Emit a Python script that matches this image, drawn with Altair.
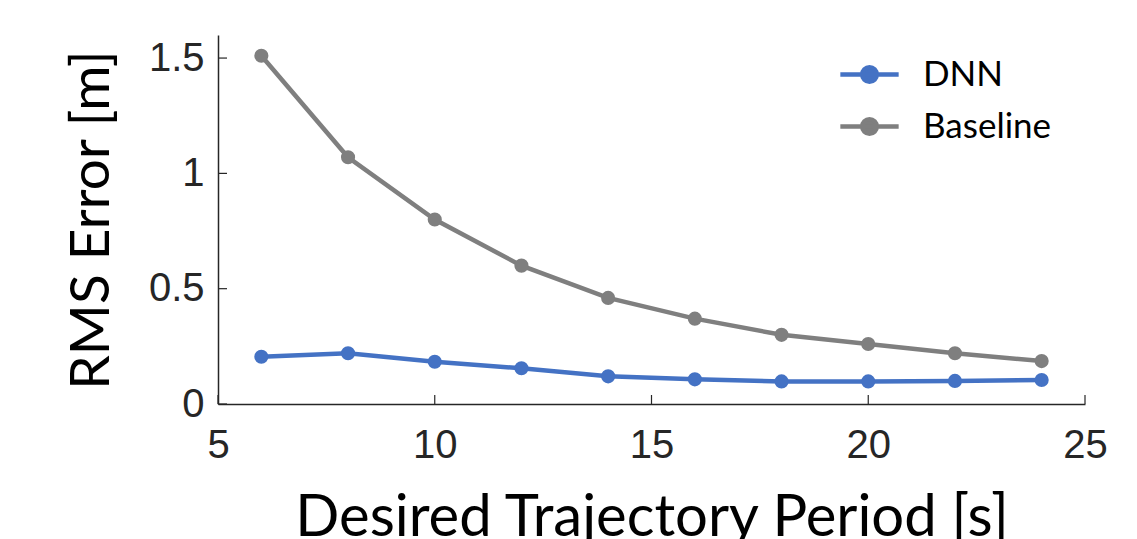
import altair as alt
import pandas as pd

period = [6, 8, 10, 12, 14, 16, 18, 20, 22, 24]
dnn = [0.205, 0.22, 0.183, 0.155, 0.12, 0.107, 0.098, 0.098, 0.10, 0.104]
baseline = [1.51, 1.07, 0.80, 0.60, 0.46, 0.37, 0.30, 0.26, 0.22, 0.186]
series_names = ["DNN", "Baseline"]
series_colors = ["#4472C4", "#7F7F7F"]
x_ticks = [5, 10, 15, 20, 25]
y_ticks = [0, 0.5, 1, 1.5]

rows = []
for p, d, b in zip(period, dnn, baseline):
    rows.append({"period": p, "value": d, "series": "DNN"})
    rows.append({"period": p, "value": b, "series": "Baseline"})
df = pd.DataFrame(rows)

W, H = 867, 369
TICK = 9

xscale = alt.Scale(domain=[5, 25], nice=False, zero=False)
yscale = alt.Scale(domain=[0, 1.6], nice=False)

legend_path = "M-1,0L1,0M0.25,0A0.25,0.25,0,1,1,-0.25,0A0.25,0.25,0,1,1,0.25,0Z"

color = alt.Color(
    "series:N",
    scale=alt.Scale(domain=series_names, range=series_colors),
    legend=alt.Legend(
        title=None,
        orient="none",
        legendX=620,
        legendY=8,
        symbolType=legend_path,
        symbolSize=3400,
        symbolStrokeWidth=4.5,
        labelFont="Lato",
        labelFontSize=35,
        labelColor="#000000",
        labelOffset=22,
        rowPadding=2,
        symbolOpacity=1,
    ),
)

base = alt.Chart(df).encode(
    x=alt.X(
        "period:Q",
        scale=xscale,
        axis=alt.Axis(
            values=x_ticks,
            title="Desired Trajectory Period [s]",
            titleFont="Lato",
            titleFontSize=58,
            titleFontWeight="normal",
            titleColor="#000000",
            titlePadding=24,
            labelFont="Liberation Sans",
            labelFontSize=40,
            labelColor="#262626",
            labelPadding=21,
            tickSize=0,
            grid=False,
            domainColor="#262626",
            domainWidth=1.5,
            labelFlush=False,
        ),
    ),
    y=alt.Y(
        "value:Q",
        scale=yscale,
        axis=alt.Axis(
            values=y_ticks,
            title="RMS Error [m]",
            titleFont="Lato",
            titleFontSize=55,
            titleFontWeight="normal",
            titleColor="#000000",
            titlePadding=28,
            labelFont="Liberation Sans",
            labelFontSize=40,
            labelColor="#262626",
            labelPadding=14,
            tickSize=0,
            grid=False,
            domainColor="#262626",
            domainWidth=1.5,
            labelFlush=False,
            labelExpr="datum.value == 0 ? '0' : format(datum.value, '.2~f')",
        ),
    ),
    color=color,
)

lines = base.mark_line(strokeWidth=4.5).encode(
    detail="series:N"
)
points = base.mark_circle(size=200, opacity=1).encode(
    fill=alt.Fill("series:N", scale=alt.Scale(domain=series_names, range=series_colors), legend=None)
)

ytick_df = pd.DataFrame({"t": y_ticks})
xtick_df = pd.DataFrame({"t": x_ticks})

yt = alt.Chart(ytick_df).mark_rule(color="#262626", strokeWidth=1.2).encode(
    y=alt.Y("t:Q", scale=yscale),
    x=alt.value(0),
    x2=alt.value(TICK),
)
xt = alt.Chart(xtick_df).mark_rule(color="#262626", strokeWidth=1.2).encode(
    x=alt.X("t:Q", scale=xscale),
    y=alt.value(H),
    y2=alt.value(H - TICK),
)

chart = (
    alt.layer(lines, points, yt, xt)
    .properties(
        width=W,
        height=H,
        autosize=alt.AutoSizeParams(type="none"),
        padding={"left": 210, "top": 27, "right": 40, "bottom": 140},
        view=alt.ViewBackground(stroke="transparent", strokeWidth=0, strokeOpacity=0),
    )
    .configure_view(strokeWidth=0, stroke="transparent", strokeOpacity=0)
    .configure(background="white")
)

chart.save("out.html", embed_options={"renderer": "svg", "actions": False})
